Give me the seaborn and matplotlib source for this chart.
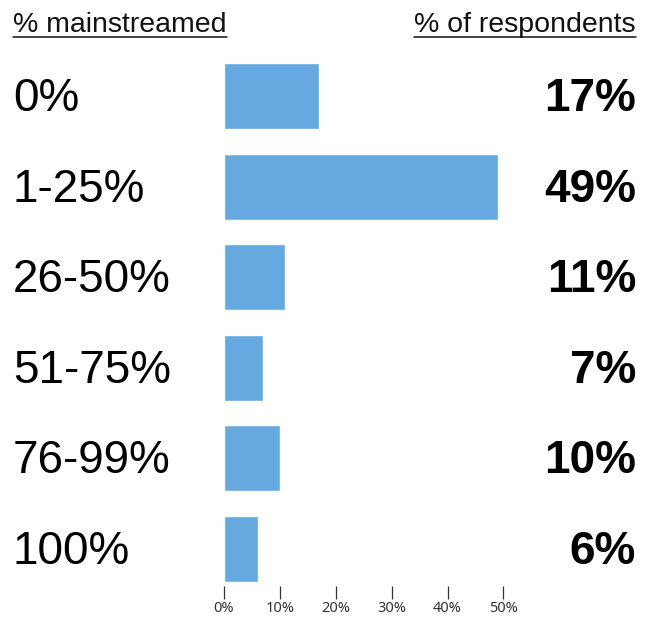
import matplotlib
matplotlib.use("Agg")
import matplotlib.pyplot as plt
import matplotlib.transforms as mtransforms
from matplotlib.lines import Line2D
import pandas as pd
import seaborn as sns

categories = ["0%", "1-25%", "26-50%", "51-75%", "76-99%", "100%"]
respondents = [17, 49, 11, 7, 10, 6]
x_ticks = [0, 10, 20, 30, 40, 50]
left_header = "% mainstreamed"
right_header = "% of respondents"

BAR_COLOR = "#65a9e0"

sns.set_theme(style="white")
plt.rcParams["font.family"] = ["Liberation Sans", "DejaVu Sans"]

df = pd.DataFrame({"category": categories, "pct": respondents})

W, H = 653, 617
fig = plt.figure(figsize=(W / 100, H / 100), dpi=100)
ax = fig.add_axes([224 / W, 31 / H, 279.5 / W, 535.3 / H])

sns.barplot(data=df, x="pct", y="category", orient="h", color=BAR_COLOR,
            saturation=1, width=0.73, ax=ax)

ax.set_xlim(0, 50)
ax.set_ylim(5.41, -0.5)
ax.set_xticks(x_ticks)
ax.set_xticklabels([f"{v}%" for v in x_ticks], fontfamily="Noto Sans",
                   fontsize=10.5, color="#333333")
ax.tick_params(axis="x", bottom=True, length=9, width=0.9, color="#333333", pad=1.5)
ax.tick_params(axis="y", left=False, labelleft=False)
ax.set_xlabel("")
ax.set_ylabel("")
for s in ax.spines.values():
    s.set_visible(False)

# category labels and values, baseline placed a little below bar centre
trans_left = mtransforms.blended_transform_factory(fig.transFigure, ax.transData)
trans_left = mtransforms.offset_copy(trans_left, fig=fig, y=-15, units="dots")
for i, (cat, val) in enumerate(zip(categories, respondents)):
    ax.text(13 / W, i, cat, transform=trans_left, ha="left", va="baseline",
            fontsize=33, color="black")
    ax.text(636 / W, i, f"{val}%", transform=trans_left, ha="right", va="baseline",
            fontsize=33, fontweight="bold", color="black")

# underlined headers
h1 = fig.text(13 / W, 1 - 32 / H, left_header, ha="left", va="baseline",
              fontsize=20.5, color="#111111")
h2 = fig.text(636 / W, 1 - 32 / H, right_header, ha="right", va="baseline",
              fontsize=20.5, color="#111111")
fig.canvas.draw()
r = fig.canvas.get_renderer()
for h in (h1, h2):
    bb = h.get_window_extent(renderer=r)
    y = (H - 36.5) / H
    fig.add_artist(Line2D([bb.x0 / W, bb.x1 / W], [y, y], transform=fig.transFigure,
                          color="#111111", lw=1.1))

fig.savefig("out.png", dpi=100)
